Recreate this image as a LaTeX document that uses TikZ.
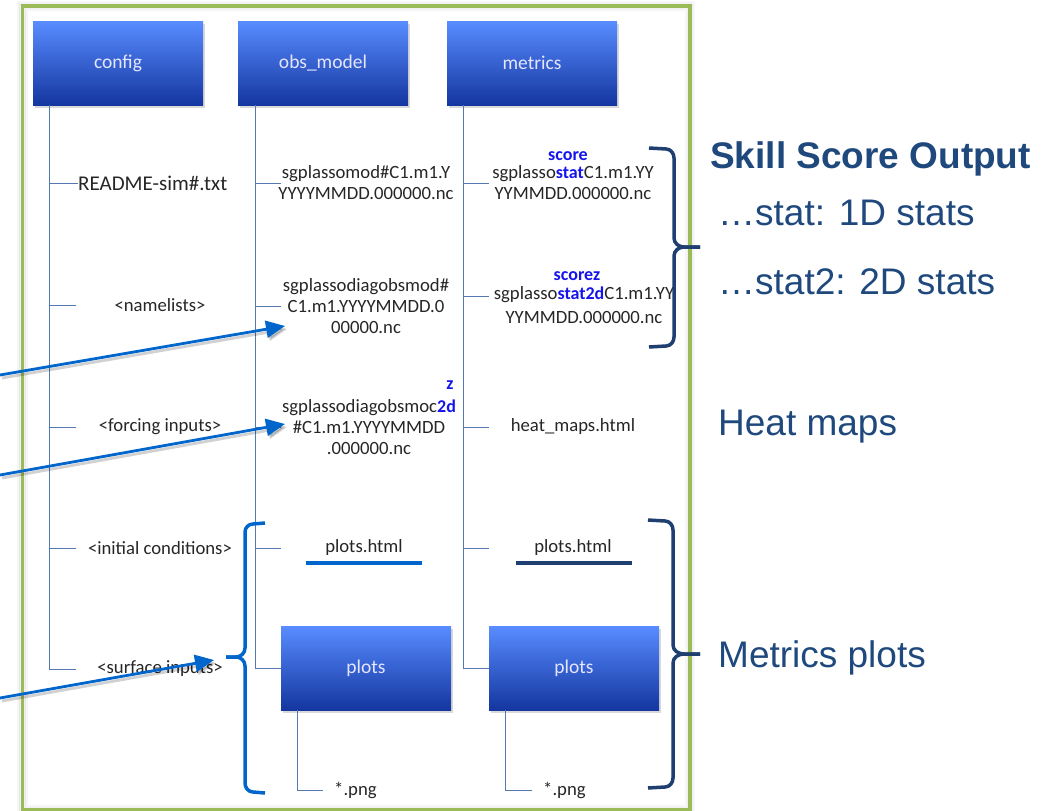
\documentclass[tikz,border=0pt]{standalone}
\usepackage{fontspec}
\setmainfont{Carlito}
\newfontfamily\arialfont{Liberation Sans}
\usetikzlibrary{arrows.meta,shadows,calc}
\definecolor{boxtop}{RGB}{88,140,255}
\definecolor{boxbot}{RGB}{20,54,160}
\definecolor{treeline}{RGB}{84,120,178}
\definecolor{arrowblue}{RGB}{0,102,204}
\definecolor{navy}{RGB}{31,63,112}
\definecolor{labelnavy}{RGB}{31,73,125}
\definecolor{framegreen}{RGB}{155,187,89}
\definecolor{hiblue}{RGB}{20,20,235}
\definecolor{txt}{RGB}{38,38,38}
\begin{document}
\begin{tikzpicture}[x=1pt,y=-1pt,
  folder/.style={rectangle, minimum width=170pt, minimum height=84pt,
    top color=boxtop, bottom color=boxbot, draw=none,
    text=white!90!blue, font=\fontsize{19.5}{22}\selectfont,
    drop shadow={shadow xshift=2pt, shadow yshift=-2.5pt, opacity=.3}},
  item/.style={inner sep=0pt, text=txt, align=center, font=\fontsize{18.7}{21}\selectfont},
  tree/.style={draw=treeline, line width=0.9pt},
  hilite/.style={inner sep=0pt, text=hiblue, font=\fontsize{18}{20}\selectfont\bfseries},
  brace/.style={line width=3.5pt, line join=round},
  pointer/.style={draw=arrowblue, line width=2.8pt, -{Triangle[length=19pt,width=17pt]}},
  pshadow/.style={draw=black, opacity=.18, line width=2.8pt, -{Triangle[length=19pt,width=17pt]}},
  side/.style={anchor=base west, inner sep=0pt, text=labelnavy, font=\arialfont\fontsize{37}{44}\selectfont},
]
\useasboundingbox (0,0) rectangle (1047,811);

% outer frame with a faint glow on both sides
\foreach \d/\o in {4/.035,2/.06} {
  \draw[black, opacity=\o, line width=2.5pt] (22.5-\d,6-\d) rectangle (690+\d,810+\d);
  \draw[black, opacity=\o, line width=2.5pt] (22.5+\d,6+\d) rectangle (690-\d,810-\d);
}
\draw[framegreen, line width=3.5pt] (22.5,6) rectangle (690,810);

% top-level folders
\node[folder] (config) at (118,63) {config};
\node[folder] (obsmodel) at (323,63) {obs\_model};
\node[folder] (metrics) at (532,63) {metrics};

% config contents
\node[item, anchor=west, font=\fontsize{21}{24}\selectfont] (readme) at (78,183) {README-sim\#.txt};
\node[item] (namelists) at (160,305) {<namelists>};
\node[item] (forcing) at (160,427) {<forcing inputs>};
\node[item] (initcond) at (160,548) {<initial conditions>};
\node[item] (surface) at (160,669) {<surface inputs>};

% obs_model contents
\node[item] (obs1) at (366,183) {sgplassomod\#C1.m1.Y\\YYYYMMDD.000000.nc};
\node[item] (obs2) at (366,306) {sgplassodiagobsmod\#\\C1.m1.YYYYMMDD.0\\00000.nc};
\node[item] (obs3) at (369,427) {sgplassodiagobsmoc{\color{hiblue}\bfseries\fontsize{18}{21}\selectfont 2d}\\\#C1.m1.YYYYMMDD\\.000000.nc};
\node[hilite] (zmark) at (450,385) {z};
\node[item] (html1) at (364,548) {plots.html};
\node[folder] (plotsA) at (366,668) {plots};
\node[item, anchor=west, inner xsep=11pt] (pngA) at (323,790) {*.png};

% metrics contents
\node[item] (met1) at (573,183) {sgplasso{\color{hiblue}\bfseries\fontsize{18}{21}\selectfont stat}C1.m1.YY\\YYMMDD.000000.nc};
\node[hilite] (score) at (568,156) {score};
\node[item] (met2) at (584,305) {sgplasso{\color{hiblue}\bfseries\fontsize{18}{21}\selectfont stat2d}C1.m1.YY\\[3pt]YYMMDD.000000.nc};
\node[hilite] (scorez) at (577,276) {scorez};
\node[item] (heat) at (573,427) {heat\_maps.html};
\node[item] (html2) at (573,548) {plots.html};
\node[folder] (plotsB) at (574,668) {plots};
\node[item, anchor=west, inner xsep=11pt] (pngB) at (532,790) {*.png};

% tree lines
\coordinate (cfgT) at ([xshift=17pt]config.south west);
\coordinate (obsT) at ([xshift=18pt]obsmodel.south west);
\coordinate (metT) at ([xshift=17pt]metrics.south west);
\draw[tree] (cfgT) -- (cfgT |- surface) -- ++(26,0);
\draw[tree] (cfgT |- readme) -- (readme.west);
\foreach \n in {namelists,forcing,initcond} \draw[tree] (cfgT |- \n) -- ++(26,0);
\draw[tree] (obsT) -- (obsT |- plotsA) -- (plotsA.west);
\foreach \n in {obs1,obs3,html1} \draw[tree] (obsT |- \n) -- ++(25,0);
\draw[tree] (obsT |- obs2) -- ++(25,0);
\draw[tree] (metT) -- (metT |- plotsB) -- (plotsB.west);
\foreach \n in {met1,heat,html2} \draw[tree] (metT |- \n) -- ++(25,0);
\draw[tree] (metT |- met2) ++(0,-9) -- ++(25,0);
\coordinate (pA) at ([xshift=17pt]plotsA.south west);
\coordinate (pB) at ([xshift=17pt]plotsB.south west);
\draw[tree] (pA) |- (pngA.west);
\draw[tree] (pB) |- (pngB.west);

% underlines below the html entries
\draw[arrowblue, line width=4pt] (306,563) -- (422,563);
\draw[navy, line width=4pt] (516,563) -- (632,563);

% braces
\draw[navy, brace] (649,148) -- (666,149) to[out=0,in=90] (674,158) -- (674,238)
  to[out=-90,in=180] (684,247) -- (700,247);
\draw[navy, brace] (700,247) -- (684,247) to[out=180,in=90] (674,256) -- (674,337)
  to[out=-90,in=0] (666,346) -- (649,347);
\draw[navy, brace] (648,520) -- (665,521) to[out=0,in=90] (673,530) -- (673,645)
  to[out=-90,in=180] (684,654) -- (700,654);
\draw[navy, brace] (700,654) -- (684,654) to[out=180,in=90] (673,663) -- (673,778)
  to[out=-90,in=0] (665,787) -- (648,788);
\draw[arrowblue, brace] (265,523) -- (253,524) to[out=180,in=90] (245,532) -- (245,648)
  to[out=-90,in=0] (236,657) -- (226,657);
\draw[arrowblue, brace] (226,657) -- (236,657) to[out=0,in=90] (245,666) -- (245,783)
  to[out=-90,in=180] (253,792) -- (265,793);

% side labels
\node[side, font=\arialfont\bfseries\fontsize{37}{44}\selectfont] (skill) at (710,168) {Skill Score Output};
\node[side] (stat1) at (718,225) {…stat: 1D stats};
\node[side] (stat2) at (718,294) {…stat2: 2D stats};
\node[side] (heatlbl) at (718,435) {Heat maps};
\node[side] (metlbl) at (718,667) {Metrics plots};

% incoming pointers
\coordinate (src1) at (0,375);
\coordinate (tip1) at (285,326);
\coordinate (src2) at (0,475);
\coordinate (tip2) at (285,424);
\coordinate (src3) at (0,698);
\coordinate (tip3) at (214,660);
\foreach \s/\t in {src1/tip1,src2/tip2,src3/tip3} {
  \draw[pshadow] ([shift={(2,3)}]\s) -- ([shift={(2,3)}]\t);
  \draw[pointer] (\s) -- (\t);
}
\end{tikzpicture}
\end{document}
